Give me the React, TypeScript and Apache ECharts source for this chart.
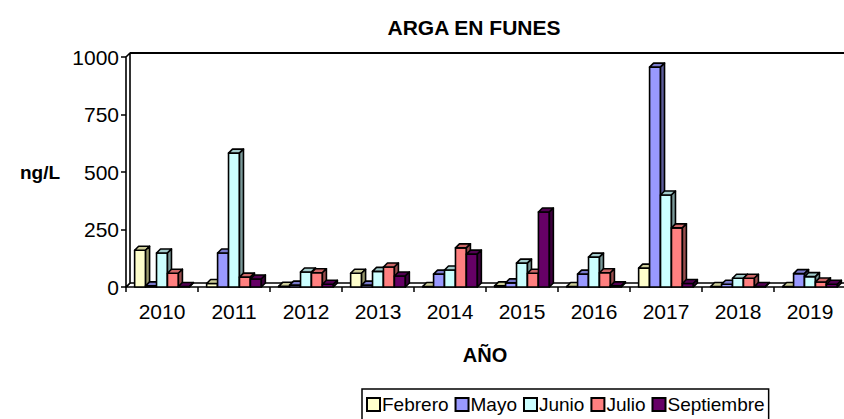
import React, { useEffect, useRef } from "react";
import * as echarts from "echarts";

const years = ["2010", "2011", "2012", "2013", "2014", "2015", "2016", "2017", "2018", "2019"];
const seriesNames = ["Febrero", "Mayo", "Junio", "Julio", "Septiembre"];
const febrero = [160, 15, 3, 60, 2, 5, 2, 82, 2, 2];
const mayo = [5, 148, 8, 8, 56, 18, 56, 956, 12, 58];
const junio = [148, 582, 65, 68, 74, 104, 130, 400, 38, 45];
const julio = [60, 43, 62, 87, 170, 60, 62, 257, 38, 22];
const septiembre = [2, 35, 12, 48, 143, 326, 5, 15, 2, 12];
const yTicks = [0, 250, 500, 750, 1000];

const frontColors = ["#FFFFCC", "#9999FF", "#CCFFFF", "#FF8080", "#660066"];
const topColors = ["#CCCC99", "#7A7ACC", "#A3CCCC", "#CC6666", "#520052"];
const sideColors = ["#99996B", "#5C5C99", "#7A9999", "#994D4D", "#3D003D"];

const D = 4;
const FONT = "'Liberation Sans', Arial, Helvetica, sans-serif";

export default function App() {
  const ref = useRef<HTMLDivElement>(null);
  useEffect(() => {
    document.body.style.margin = "0";
    const chart = echarts.init(ref.current as HTMLDivElement, null, { renderer: "svg" });
    const seriesValues = [febrero, mayo, junio, julio, septiembre];
    const stroke = { stroke: "#000", lineWidth: 1.6, lineJoin: "round" };

    const barSeries = seriesNames.map((name, s) => ({
      name,
      type: "custom",
      z: 3,
      itemStyle: { color: frontColors[s], borderColor: "#000", borderWidth: 2 },
      data: seriesValues[s].map((v, i) => [i, v]),
      renderItem: (params: any, api: any) => {
        const idx = api.value(0);
        const v = api.value(1);
        const base = api.coord([idx, 0]);
        const top = api.coord([idx, v]);
        const band = api.size([1, 0])[0];
        const groupW = band * 0.76;
        const bw = groupW / 5;
        const x = base[0] - groupW / 2 + s * bw;
        const y0 = base[1];
        const y1 = top[1];
        return {
          type: "group",
          children: [
            {
              type: "rect",
              shape: { x, y: y1, width: bw, height: y0 - y1 },
              style: { fill: frontColors[s], ...stroke },
            },
            {
              type: "polygon",
              shape: { points: [[x, y1], [x + bw, y1], [x + bw + D, y1 - D], [x + D, y1 - D]] },
              style: { fill: topColors[s], ...stroke },
            },
            {
              type: "polygon",
              shape: { points: [[x + bw, y1], [x + bw + D, y1 - D], [x + bw + D, y0 - D], [x + bw, y0]] },
              style: { fill: sideColors[s], ...stroke },
            },
          ],
        };
      },
    }));

    const frameSeries = {
      name: "frame",
      type: "custom",
      silent: true,
      z: 1,
      data: [[0, 0]],
      renderItem: (params: any, api: any) => {
        const cs = params.coordSys;
        const x = cs.x;
        const yT = cs.y;
        const w = cs.width;
        const y0 = cs.y + cs.height;
        return {
          type: "group",
          children: [
            {
              type: "polygon",
              shape: { points: [[x, y0], [x + w, y0], [x + w + D, y0 - D], [x + D, y0 - D]] },
              style: { fill: "#fff", ...stroke },
            },
            {
              type: "polygon",
              shape: { points: [[x, y0], [x, yT], [x + D, yT - D], [x + D, y0 - D]] },
              style: { fill: "#fff", ...stroke },
            },
            {
              type: "line",
              shape: { x1: x + D, y1: yT - D, x2: x + w + D + 10, y2: yT - D },
              style: { stroke: "#000", lineWidth: 2 },
            },
          ],
        };
      },
    };

    chart.setOption({
      animation: false,
      backgroundColor: "#fff",
      textStyle: { fontFamily: FONT },
      grid: { left: 126, right: -2, top: 57, bottom: 132, outerBoundsMode: "none", containLabel: false },
      xAxis: {
        type: "category",
        data: years,
        axisLine: { show: false },
        axisTick: { show: true, length: 5, lineStyle: { color: "#000", width: 1.5 } },
        axisLabel: { fontSize: 21, color: "#000", margin: 14, fontFamily: FONT },
        splitLine: { show: false },
      },
      yAxis: {
        type: "value",
        min: yTicks[0],
        max: yTicks[yTicks.length - 1],
        interval: yTicks[1] - yTicks[0],
        axisLine: { show: false },
        axisTick: { show: true, length: 5, lineStyle: { color: "#000", width: 1.5 } },
        axisLabel: {
          fontSize: 21,
          color: "#000",
          margin: 7,
          fontFamily: FONT,
          formatter: (v: number) => String(v),
        },
        splitLine: { show: false },
      },
      legend: {
        data: seriesNames,
        left: 362,
        top: 389,
        icon: "rect",
        itemWidth: 13,
        itemHeight: 13,
        itemGap: 6,
        padding: [6, 4],
        borderColor: "#000",
        borderWidth: 1.5,
        borderRadius: 0,
        itemStyle: { borderColor: "#000", borderWidth: 2 },
        textStyle: { fontSize: 19, color: "#000", fontFamily: FONT, padding: [0, 0, 0, -3] },
      },
      graphic: [
        {
          type: "text",
          x: 474,
          y: 27,
          style: { text: "ARGA EN FUNES", font: `bold 21px ${FONT}`, fill: "#000", textAlign: "center", textVerticalAlign: "middle" },
        },
        {
          type: "text",
          x: 40,
          y: 172,
          style: { text: "ng/L", font: `bold 19px ${FONT}`, fill: "#000", textAlign: "center", textVerticalAlign: "middle" },
        },
        {
          type: "text",
          x: 485,
          y: 355,
          style: { text: "AÑO", font: `bold 20px ${FONT}`, fill: "#000", textAlign: "center", textVerticalAlign: "middle" },
        },
      ],
      series: [frameSeries, ...barSeries],
    });
    return () => chart.dispose();
  }, []);
  return <div ref={ref} style={{ width: 844, height: 419 }} />;
}
